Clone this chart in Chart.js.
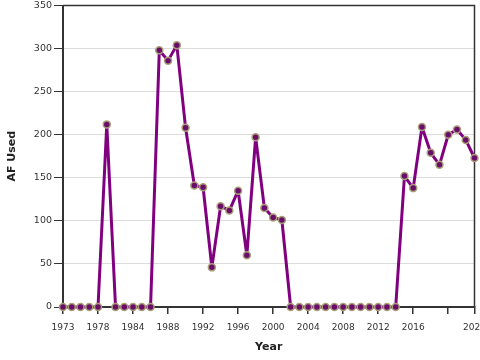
<!DOCTYPE html>
<html>
<head>
<meta charset="utf-8">
<script src="https://cdn.jsdelivr.net/npm/chart.js@4/dist/chart.umd.min.js"></script>
<style>
html,body{margin:0;padding:0;background:#fff;overflow:hidden;}
canvas{display:block;}
</style>
</head>
<body>
<canvas id="c" width="480" height="360"></canvas>
<script>
const years = [1973,1974,1975,1976,1978,1979,1980,1982,1984,1985,1986,1987,1988,1989,1990,1991,1992,1993,1994,1995,1996,1997,1998,1999,2000,2001,2002,2003,2004,2005,2006,2007,2008,2009,2010,2011,2012,2013,2014,2015,2016,2017,2018,2019,2020,2021,2022,2023];
const afUsed = [0,0,0,0,0,212,0,0,0,0,0,298,286,304,208,141,139,46,117,112,135,60,197,115,104,101,0,0,0,0,0,0,0,0,0,0,0,0,0,152,138,209,179,165,200,206,194,173];
const yTicks = {min:0, max:350, step:50};
const xTitle = 'Year';
const yTitle = 'AF Used';

const FONT = 'DejaVu Sans';
const showTick = i => i % 4 === 0 || i === years.length - 1;
const showLabel = i => (i % 4 === 0 && i !== 44) || i === years.length - 1;

const framePlugin = {
  id: 'frame',
  beforeDatasetsDraw(chart) {
    const {ctx, chartArea: a} = chart;
    ctx.save();
    ctx.strokeStyle = '#333';
    ctx.lineWidth = 1.5;
    ctx.beginPath();
    ctx.moveTo(a.left, a.top);
    ctx.lineTo(a.right, a.top);
    ctx.lineTo(a.right, a.bottom);
    ctx.stroke();
    ctx.restore();
  }
};

new Chart(document.getElementById('c'), {
  type: 'line',
  data: {
    labels: years,
    datasets: [{
      label: yTitle,
      data: afUsed,
      borderColor: '#800080',
      borderWidth: 3,
      borderJoinStyle: 'round',
      borderCapStyle: 'round',
      pointBackgroundColor: '#6a0d6a',
      pointBorderColor: '#a89f78',
      pointBorderWidth: 1.5,
      pointRadius: 3.5,
      tension: 0,
      clip: false
    }]
  },
  options: {
    responsive: false,
    animation: false,
    devicePixelRatio: 1,
    layout: {padding: {top: 5, right: 5, left: 0, bottom: 0}},
    plugins: {legend: {display: false}, tooltip: {enabled: false}},
    scales: {
      x: {
        type: 'category',
        offset: false,
        grid: {
          drawOnChartArea: false,
          tickLength: 7,
          lineWidth: 1.5,
          color: ctx => showTick(ctx.index) ? '#333' : 'rgba(0,0,0,0)'
        },
        border: {color: '#333', width: 2},
        ticks: {
          autoSkip: false,
          maxRotation: 0,
          padding: 8,
          color: '#333',
          font: {family: FONT, size: 9},
          callback: (v, i) => showLabel(i) ? years[i] : ''
        },
        title: {display: true, text: xTitle, color: '#222', font: {family: FONT, size: 11, weight: 'bold'}, padding: {top: 0, bottom: 6}},
        afterFit: s => { s.height = 53; s.paddingRight = 0; s.paddingLeft = 0; }
      },
      y: {
        min: yTicks.min,
        max: yTicks.max,
        grid: {color: '#dcdcdc', lineWidth: 1, tickColor: '#333', tickLength: 9},
        border: {color: '#333', width: 2},
        ticks: {stepSize: yTicks.step, padding: 2, color: '#333', font: {family: FONT, size: 9.5}},
        title: {display: true, text: yTitle, color: '#222', font: {family: FONT, size: 11, weight: 'bold'}, padding: {top: 6, bottom: 0}},
        afterFit: s => { s.width = 63; s.paddingTop = 0; s.paddingBottom = 0; }
      }
    }
  },
  plugins: [framePlugin]
});
</script>
</body>
</html>
